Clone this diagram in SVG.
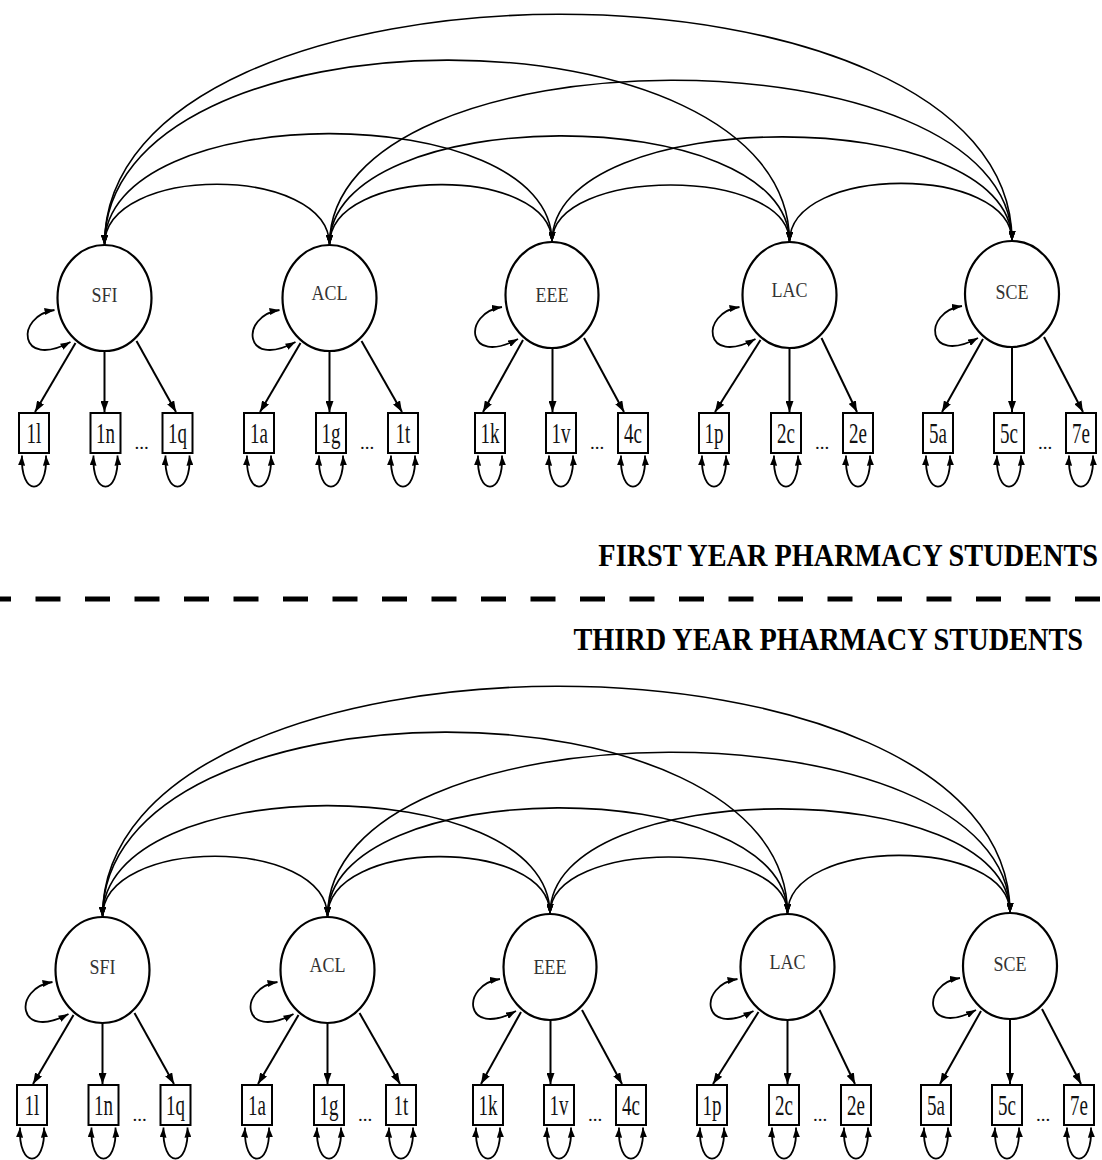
<svg xmlns="http://www.w3.org/2000/svg" width="1102" height="1160" viewBox="0 0 1102 1160">
<defs>
<marker id="ah" markerWidth="10" markerHeight="7" refX="10" refY="3.5" orient="auto-start-reverse" markerUnits="userSpaceOnUse"><path d="M0,0 L10,3.5 L0,7 z" fill="#000"/></marker>
<marker id="al" markerWidth="11" markerHeight="8" refX="11" refY="4" orient="auto" markerUnits="userSpaceOnUse"><path d="M0,0 L11,4 L0,8 z" fill="#000"/></marker>
<style>
.lat ellipse{fill:#fff;stroke:#000;stroke-width:2.2}
.ind rect{fill:#fff;stroke:#000;stroke-width:2}
.lbl{font-family:"Liberation Serif","Times New Roman",serif;font-size:18px;text-anchor:middle;fill:#333}
.ilbl{font-family:"Liberation Serif","Times New Roman",serif;font-size:19px;text-anchor:middle;fill:#111}
.dots{font-family:"Liberation Serif","Times New Roman",serif;font-size:19px;text-anchor:middle;fill:#111}
.ttl{font-family:"Liberation Serif","Times New Roman",serif;font-size:28.3px;font-weight:bold;text-anchor:end;fill:#000}
.cov{fill:none;stroke:#000;stroke-width:1.6;marker-start:url(#ah);marker-end:url(#ah)}
.load{fill:none;stroke:#000;stroke-width:2;marker-end:url(#al)}
.var{fill:none;stroke:#000;stroke-width:1.8;marker-start:url(#ah);marker-end:url(#ah)}
</style>
</defs>
<rect width="1102" height="1160" fill="#fff"/>

<g id="panel-first">
<g id="connectors-1">
<path class="cov" d="M104.5,245 C104.5,164 329.5,164 329.5,245"/>
<path class="cov" d="M329.5,245 C329.5,165 552,165 552,242"/>
<path class="cov" d="M552,242 C552,166 789.5,166 789.5,242"/>
<path class="cov" d="M789.5,242 C789.5,164 1012,164 1012,241"/>
<path class="cov" d="M104.5,245 C104.5,97 552,97 552,242"/>
<path class="cov" d="M329.5,245 C329.5,100 789.5,100 789.5,242"/>
<path class="cov" d="M552,242 C552,102 1012,102 1012,241"/>
<path class="cov" d="M104.5,245 C104.5,-1 789.5,-1 789.5,242"/>
<path class="cov" d="M329.5,245 C329.5,26 1012,26 1012,241"/>
<path class="cov" d="M104.5,245 C104.5,-62 1012,-62 1012,241"/>
<path class="var" d="M54.5,310 C14.5,316 18.5,370 70.5,342"/>
<path class="var" d="M279.5,310 C239.5,316 243.5,370 295.5,342"/>
<path class="var" d="M502,307 C462,313 466,367 518,339"/>
<path class="var" d="M739.5,307 C699.5,313 703.5,367 755.5,339"/>
<path class="var" d="M962,306 C922,312 926,366 978,338"/>
<path class="load" d="M75.5,343 L35,412"/>
<path class="load" d="M104.5,351 L104.5,412"/>
<path class="load" d="M136.5,341 L176,412"/>
<path class="load" d="M300.5,343 L260,412"/>
<path class="load" d="M329.5,351 L329.5,412"/>
<path class="load" d="M361.5,341 L402,412"/>
<path class="load" d="M523,340 L483,412"/>
<path class="load" d="M552.5,348 L552.5,412"/>
<path class="load" d="M584,338 L624,412"/>
<path class="load" d="M760.5,340 L715,412"/>
<path class="load" d="M789.5,348 L789.5,412"/>
<path class="load" d="M821.5,338 L857,412"/>
<path class="load" d="M983,339 L942,412"/>
<path class="load" d="M1012,347 L1012,412"/>
<path class="load" d="M1044,337 L1083,412"/>
<path class="var" d="M22,455.5 C20,497 48,497 46,455.5"/>
<path class="var" d="M93.5,455.5 C91.5,497 119.5,497 117.5,455.5"/>
<path class="var" d="M165.5,455.5 C163.5,497 191.5,497 189.5,455.5"/>
<path class="var" d="M247,455.5 C245,497 273,497 271,455.5"/>
<path class="var" d="M319,455.5 C317,497 345,497 343,455.5"/>
<path class="var" d="M391,455.5 C389,497 417,497 415,455.5"/>
<path class="var" d="M478,455.5 C476,497 504,497 502,455.5"/>
<path class="var" d="M549,455.5 C547,497 575,497 573,455.5"/>
<path class="var" d="M621,455.5 C619,497 647,497 645,455.5"/>
<path class="var" d="M702,455.5 C700,497 728,497 726,455.5"/>
<path class="var" d="M774,455.5 C772,497 800,497 798,455.5"/>
<path class="var" d="M846,455.5 C844,497 872,497 870,455.5"/>
<path class="var" d="M926,455.5 C924,497 952,497 950,455.5"/>
<path class="var" d="M997,455.5 C995,497 1023,497 1021,455.5"/>
<path class="var" d="M1069,455.5 C1067,497 1095,497 1093,455.5"/>
</g>
<g id="SFI-1" class="lat"><ellipse cx="104.5" cy="298" rx="47" ry="53"/><text class="lbl" transform="translate(104.5,302) scale(1,1.15)">SFI</text></g>
<g id="ACL-1" class="lat"><ellipse cx="329.5" cy="298" rx="47" ry="53"/><text class="lbl" transform="translate(329.5,300) scale(1,1.15)">ACL</text></g>
<g id="EEE-1" class="lat"><ellipse cx="552" cy="295" rx="46.5" ry="53"/><text class="lbl" transform="translate(552,302) scale(1,1.15)">EEE</text></g>
<g id="LAC-1" class="lat"><ellipse cx="789.5" cy="295" rx="47" ry="53"/><text class="lbl" transform="translate(789.5,297) scale(1,1.15)">LAC</text></g>
<g id="SCE-1" class="lat"><ellipse cx="1012" cy="294" rx="47" ry="53"/><text class="lbl" transform="translate(1012,299) scale(1,1.15)">SCE</text></g>

<g id="i1l-1" class="ind"><rect x="19" y="413" width="30" height="40"/><text class="ilbl" transform="translate(34,443) scale(1,1.5)">1l</text></g>
<g id="i1n-1" class="ind"><rect x="90.5" y="413" width="30" height="40"/><text class="ilbl" transform="translate(105.5,443) scale(1,1.5)">1n</text></g>
<g id="i1q-1" class="ind"><rect x="162.5" y="413" width="30" height="40"/><text class="ilbl" transform="translate(177.5,443) scale(1,1.5)">1q</text></g>
<text class="dots" x="141.5" y="449">...</text>
<g id="i1a-1" class="ind"><rect x="244" y="413" width="30" height="40"/><text class="ilbl" transform="translate(259,443) scale(1,1.5)">1a</text></g>
<g id="i1g-1" class="ind"><rect x="316" y="413" width="30" height="40"/><text class="ilbl" transform="translate(331,443) scale(1,1.5)">1g</text></g>
<g id="i1t-1" class="ind"><rect x="388" y="413" width="30" height="40"/><text class="ilbl" transform="translate(403,443) scale(1,1.5)">1t</text></g>
<text class="dots" x="367" y="449">...</text>
<g id="i1k-1" class="ind"><rect x="475" y="413" width="30" height="40"/><text class="ilbl" transform="translate(490,443) scale(1,1.5)">1k</text></g>
<g id="i1v-1" class="ind"><rect x="546" y="413" width="30" height="40"/><text class="ilbl" transform="translate(561,443) scale(1,1.5)">1v</text></g>
<g id="i4c-1" class="ind"><rect x="618" y="413" width="30" height="40"/><text class="ilbl" transform="translate(633,443) scale(1,1.5)">4c</text></g>
<text class="dots" x="597" y="449">...</text>
<g id="i1p-1" class="ind"><rect x="699" y="413" width="30" height="40"/><text class="ilbl" transform="translate(714,443) scale(1,1.5)">1p</text></g>
<g id="i2c-1" class="ind"><rect x="771" y="413" width="30" height="40"/><text class="ilbl" transform="translate(786,443) scale(1,1.5)">2c</text></g>
<g id="i2e-1" class="ind"><rect x="843" y="413" width="30" height="40"/><text class="ilbl" transform="translate(858,443) scale(1,1.5)">2e</text></g>
<text class="dots" x="822" y="449">...</text>
<g id="i5a-1" class="ind"><rect x="923" y="413" width="30" height="40"/><text class="ilbl" transform="translate(938,443) scale(1,1.5)">5a</text></g>
<g id="i5c-1" class="ind"><rect x="994" y="413" width="30" height="40"/><text class="ilbl" transform="translate(1009,443) scale(1,1.5)">5c</text></g>
<g id="i7e-1" class="ind"><rect x="1066" y="413" width="30" height="40"/><text class="ilbl" transform="translate(1081,443) scale(1,1.5)">7e</text></g>
<text class="dots" x="1045" y="449">...</text>
</g>

<g id="divider">
<text class="ttl" transform="translate(1098,566) scale(1,1.13)">FIRST YEAR PHARMACY STUDENTS</text>
<line x1="-14" y1="599" x2="1110" y2="599" stroke="#000" stroke-width="5" stroke-dasharray="25 24.5"/>
<text class="ttl" transform="translate(1083,650) scale(1,1.13)">THIRD YEAR PHARMACY STUDENTS</text>
</g>

<g id="panel-third" transform="translate(-2,672)">
<g id="connectors-3">
<path class="cov" d="M104.5,245 C104.5,164 329.5,164 329.5,245"/>
<path class="cov" d="M329.5,245 C329.5,165 552,165 552,242"/>
<path class="cov" d="M552,242 C552,166 789.5,166 789.5,242"/>
<path class="cov" d="M789.5,242 C789.5,164 1012,164 1012,241"/>
<path class="cov" d="M104.5,245 C104.5,97 552,97 552,242"/>
<path class="cov" d="M329.5,245 C329.5,100 789.5,100 789.5,242"/>
<path class="cov" d="M552,242 C552,102 1012,102 1012,241"/>
<path class="cov" d="M104.5,245 C104.5,-1 789.5,-1 789.5,242"/>
<path class="cov" d="M329.5,245 C329.5,26 1012,26 1012,241"/>
<path class="cov" d="M104.5,245 C104.5,-62 1012,-62 1012,241"/>
<path class="var" d="M54.5,310 C14.5,316 18.5,370 70.5,342"/>
<path class="var" d="M279.5,310 C239.5,316 243.5,370 295.5,342"/>
<path class="var" d="M502,307 C462,313 466,367 518,339"/>
<path class="var" d="M739.5,307 C699.5,313 703.5,367 755.5,339"/>
<path class="var" d="M962,306 C922,312 926,366 978,338"/>
<path class="load" d="M75.5,343 L35,412"/>
<path class="load" d="M104.5,351 L104.5,412"/>
<path class="load" d="M136.5,341 L176,412"/>
<path class="load" d="M300.5,343 L260,412"/>
<path class="load" d="M329.5,351 L329.5,412"/>
<path class="load" d="M361.5,341 L402,412"/>
<path class="load" d="M523,340 L483,412"/>
<path class="load" d="M552.5,348 L552.5,412"/>
<path class="load" d="M584,338 L624,412"/>
<path class="load" d="M760.5,340 L715,412"/>
<path class="load" d="M789.5,348 L789.5,412"/>
<path class="load" d="M821.5,338 L857,412"/>
<path class="load" d="M983,339 L942,412"/>
<path class="load" d="M1012,347 L1012,412"/>
<path class="load" d="M1044,337 L1083,412"/>
<path class="var" d="M22,455.5 C20,497 48,497 46,455.5"/>
<path class="var" d="M93.5,455.5 C91.5,497 119.5,497 117.5,455.5"/>
<path class="var" d="M165.5,455.5 C163.5,497 191.5,497 189.5,455.5"/>
<path class="var" d="M247,455.5 C245,497 273,497 271,455.5"/>
<path class="var" d="M319,455.5 C317,497 345,497 343,455.5"/>
<path class="var" d="M391,455.5 C389,497 417,497 415,455.5"/>
<path class="var" d="M478,455.5 C476,497 504,497 502,455.5"/>
<path class="var" d="M549,455.5 C547,497 575,497 573,455.5"/>
<path class="var" d="M621,455.5 C619,497 647,497 645,455.5"/>
<path class="var" d="M702,455.5 C700,497 728,497 726,455.5"/>
<path class="var" d="M774,455.5 C772,497 800,497 798,455.5"/>
<path class="var" d="M846,455.5 C844,497 872,497 870,455.5"/>
<path class="var" d="M926,455.5 C924,497 952,497 950,455.5"/>
<path class="var" d="M997,455.5 C995,497 1023,497 1021,455.5"/>
<path class="var" d="M1069,455.5 C1067,497 1095,497 1093,455.5"/>
</g>
<g id="SFI-3" class="lat"><ellipse cx="104.5" cy="298" rx="47" ry="53"/><text class="lbl" transform="translate(104.5,302) scale(1,1.15)">SFI</text></g>
<g id="ACL-3" class="lat"><ellipse cx="329.5" cy="298" rx="47" ry="53"/><text class="lbl" transform="translate(329.5,300) scale(1,1.15)">ACL</text></g>
<g id="EEE-3" class="lat"><ellipse cx="552" cy="295" rx="46.5" ry="53"/><text class="lbl" transform="translate(552,302) scale(1,1.15)">EEE</text></g>
<g id="LAC-3" class="lat"><ellipse cx="789.5" cy="295" rx="47" ry="53"/><text class="lbl" transform="translate(789.5,297) scale(1,1.15)">LAC</text></g>
<g id="SCE-3" class="lat"><ellipse cx="1012" cy="294" rx="47" ry="53"/><text class="lbl" transform="translate(1012,299) scale(1,1.15)">SCE</text></g>

<g id="i1l-3" class="ind"><rect x="19" y="413" width="30" height="40"/><text class="ilbl" transform="translate(34,443) scale(1,1.5)">1l</text></g>
<g id="i1n-3" class="ind"><rect x="90.5" y="413" width="30" height="40"/><text class="ilbl" transform="translate(105.5,443) scale(1,1.5)">1n</text></g>
<g id="i1q-3" class="ind"><rect x="162.5" y="413" width="30" height="40"/><text class="ilbl" transform="translate(177.5,443) scale(1,1.5)">1q</text></g>
<text class="dots" x="141.5" y="449">...</text>
<g id="i1a-3" class="ind"><rect x="244" y="413" width="30" height="40"/><text class="ilbl" transform="translate(259,443) scale(1,1.5)">1a</text></g>
<g id="i1g-3" class="ind"><rect x="316" y="413" width="30" height="40"/><text class="ilbl" transform="translate(331,443) scale(1,1.5)">1g</text></g>
<g id="i1t-3" class="ind"><rect x="388" y="413" width="30" height="40"/><text class="ilbl" transform="translate(403,443) scale(1,1.5)">1t</text></g>
<text class="dots" x="367" y="449">...</text>
<g id="i1k-3" class="ind"><rect x="475" y="413" width="30" height="40"/><text class="ilbl" transform="translate(490,443) scale(1,1.5)">1k</text></g>
<g id="i1v-3" class="ind"><rect x="546" y="413" width="30" height="40"/><text class="ilbl" transform="translate(561,443) scale(1,1.5)">1v</text></g>
<g id="i4c-3" class="ind"><rect x="618" y="413" width="30" height="40"/><text class="ilbl" transform="translate(633,443) scale(1,1.5)">4c</text></g>
<text class="dots" x="597" y="449">...</text>
<g id="i1p-3" class="ind"><rect x="699" y="413" width="30" height="40"/><text class="ilbl" transform="translate(714,443) scale(1,1.5)">1p</text></g>
<g id="i2c-3" class="ind"><rect x="771" y="413" width="30" height="40"/><text class="ilbl" transform="translate(786,443) scale(1,1.5)">2c</text></g>
<g id="i2e-3" class="ind"><rect x="843" y="413" width="30" height="40"/><text class="ilbl" transform="translate(858,443) scale(1,1.5)">2e</text></g>
<text class="dots" x="822" y="449">...</text>
<g id="i5a-3" class="ind"><rect x="923" y="413" width="30" height="40"/><text class="ilbl" transform="translate(938,443) scale(1,1.5)">5a</text></g>
<g id="i5c-3" class="ind"><rect x="994" y="413" width="30" height="40"/><text class="ilbl" transform="translate(1009,443) scale(1,1.5)">5c</text></g>
<g id="i7e-3" class="ind"><rect x="1066" y="413" width="30" height="40"/><text class="ilbl" transform="translate(1081,443) scale(1,1.5)">7e</text></g>
<text class="dots" x="1045" y="449">...</text>
</g>
</svg>
